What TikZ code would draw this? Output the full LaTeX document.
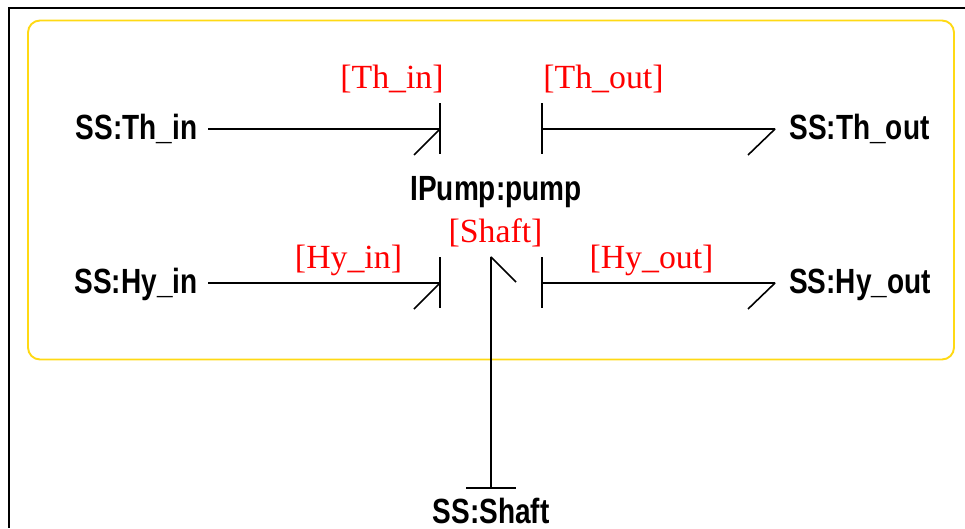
\documentclass[tikz,border=0pt]{standalone}
\usepackage{fontspec}
\setmainfont{Liberation Serif}
\newfontfamily\labelfont[FakeStretch=0.80]{Liberation Sans}
\definecolor{yellowline}{RGB}{255,217,20}
\tikzset{
  x=1pt,y=-1pt,
  ssnode/.style={font=\labelfont\bfseries\fontsize{35}{36}\selectfont,inner sep=0pt,text height=23pt,text depth=6pt},
  portlabel/.style={font=\fontsize{33.8}{36}\selectfont,text=red,inner sep=0pt,text height=24pt,text depth=7pt},
  bond/.style={draw=black,line width=1.6pt,line join=bevel},
  framebox/.style={draw=black,line width=2.4pt},
  groupbox/.style={draw=yellowline,line width=1.9pt,rounded corners=12pt},
}
\begin{document}
\begin{tikzpicture}
\useasboundingbox (0,0) rectangle (965,528);
\draw[framebox] (965,8) -- (9,8) -- (9,528);
\draw[groupbox] (28,20.5) rectangle (954,359.5);
\node[ssnode] (thin) at (136.5,130.5) {SS:Th\_in};
\node[ssnode] (thout) at (859.5,130.5) {SS:Th\_out};
\node[ssnode] (hyin) at (136,284.5) {SS:Hy\_in};
\node[ssnode] (hyout) at (860,284.5) {SS:Hy\_out};
\node[ssnode] (pump) at (496,191.5) {IPump:pump};
\node[ssnode,text depth=0pt,anchor=base] (shaftss) at (491,523.5) {SS:Shaft};
\node[portlabel] (lthin) at (392,79.5) {[Th\_in]};
\node[portlabel] (lthout) at (603.5,79.5) {[Th\_out]};
\node[portlabel] (lhyin) at (348.5,260) {[Hy\_in]};
\node[portlabel] (lhyout) at (651.5,260) {[Hy\_out]};
\node[portlabel] (lshaft) at (495.5,234) {[Shaft]};
% Th_in
\coordinate (a1) at (440,129);
\coordinate (a0) at (208,129);
\draw[bond] (a0) -- (a1) -- ++(-26,26);
\draw[bond] (440,103) -- (440,154);
% Th_out
\coordinate (a2) at (542,129);
\coordinate (a3) at (775,129);
\draw[bond] (a2) -- (a3) -- ++(-27,26);
\draw[bond] (542,103) -- (542,154);
% Hy_in
\coordinate (b0) at (208,283);
\coordinate (b1) at (440,283);
\draw[bond] (b0) -- (b1) -- ++(-26,26);
\draw[bond] (440,257) -- (440,308);
% Hy_out
\coordinate (b2) at (542,283);
\coordinate (b3) at (775,283);
\draw[bond] (b2) -- (b3) -- ++(-27,26);
\draw[bond] (542,257) -- (542,308);
% Shaft
\coordinate (c1) at (491,257);
\coordinate (c2) at (491,488);
\draw[bond] (c2) -- (c1) -- ++(25,25);
\draw[bond] (466,488) -- (516,488);
\end{tikzpicture}
\end{document}
